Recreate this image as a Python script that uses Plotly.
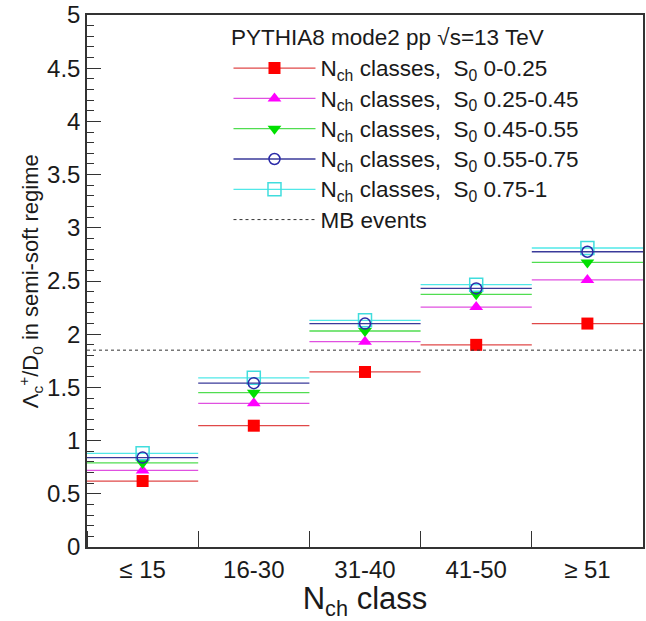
import plotly.graph_objects as go

# ---- data ----
categories = ["≤ 15", "16-30", "31-40", "41-50", "≥ 51"]
s0_000_025 = [0.62, 1.14, 1.645, 1.90, 2.10]
s0_025_045 = [0.72, 1.35, 1.93, 2.255, 2.51]
s0_045_055 = [0.79, 1.45, 2.03, 2.375, 2.675]
s0_055_075 = [0.84, 1.54, 2.10, 2.43, 2.775]
s0_075_100 = [0.88, 1.59, 2.13, 2.465, 2.81]
mb_value = 1.85
series_labels = ["0-0.25", "0.25-0.45", "0.45-0.55", "0.55-0.75", "0.75-1"]
header_text = "PYTHIA8 mode2 pp √s=13 TeV"
y_title = "Λ<sub>c</sub><sup>+</sup>/D<sub>0</sub> in semi-soft regime"
x_title = "N<sub>ch</sub> class"

FONT = "Liberation Sans, Arial, sans-serif"
TXT = "#1a1a1a"

series = [
    (s0_000_025, series_labels[0], "#e04848", "#ff0000", "square", 12, 0),
    (s0_025_045, series_labels[1], "#e050e0", "#ff00ff", "triangle-up", 12, 0),
    (s0_045_055, series_labels[2], "#50dd50", "#00e000", "triangle-down", 12, 0),
    (s0_075_100, series_labels[4], "#50e8e8", "#40dddd", "square-open", 13, 1.5),
    (s0_055_075, series_labels[3], "#3a3a9a", "#2a2aa8", "circle-open", 11, 1.5),
]

n = len(categories)
xc = [i + 0.5 for i in range(n)]

# plot-area geometry (pixels) used for paper placement of text
L, R, T, B = 87, 1, 14, 74
W, H = 646, 621
PW, PH = W - L - R, H - T - B


def px(xp):
    return (xp - L) / PW


def py(yp):
    return (H - B - yp) / PH


def big(s):
    return '<span style="font-size:22.5px">' + s + "</span>"


fig = go.Figure()

# data traces (horizontal bin-width bars + marker at bin centre)
for vals, lab, lcol, mcol, sym, size, mlw in series:
    fig.add_trace(go.Scatter(
        x=xc, y=vals, mode="markers", showlegend=False,
        marker=dict(symbol=sym, size=size, color=mcol,
                    line=dict(color=mcol, width=mlw)),
        error_x=dict(type="constant", value=0.5, width=0,
                     color=lcol, thickness=1.3),
    ))

# MB reference line
fig.add_hline(y=mb_value, line=dict(color="#333333", width=1, dash="dot"))

# legend entries (in reference order)
legend_order = [series[0], series[1], series[2], series[4], series[3]]
for vals, lab, lcol, mcol, sym, size, mlw in legend_order:
    fig.add_trace(go.Scatter(
        x=[None], y=[None], mode="lines+markers",
        name=big("N<sub>ch</sub> classes,  S<sub>0</sub> " + lab),
        line=dict(color=lcol, width=1.3),
        marker=dict(symbol=sym, size=size, color=mcol,
                    line=dict(color=mcol, width=mlw)),
    ))
fig.add_trace(go.Scatter(
    x=[None], y=[None], mode="lines", name=big("MB events"),
    line=dict(color="#333333", width=1, dash="dot"),
))

fig.add_annotation(
    text=header_text, xref="paper", yref="paper",
    x=px(230), y=py(37), xanchor="left", yanchor="middle",
    showarrow=False, font=dict(family=FONT, size=22.5, color=TXT),
)
fig.add_annotation(
    text=y_title, xref="paper", yref="paper", textangle=-90,
    x=px(30), y=0.5, xanchor="center", yanchor="middle",
    showarrow=False, font=dict(family=FONT, size=22, color=TXT),
)

fig.update_layout(
    width=W, height=H,
    margin=dict(l=L, r=R, t=T, b=B),
    paper_bgcolor="white", plot_bgcolor="white",
    font=dict(family=FONT, size=20, color=TXT),
    legend=dict(
        x=px(229), y=py(47), xanchor="left", yanchor="top",
        bgcolor="rgba(0,0,0,0)", borderwidth=0,
        font=dict(family=FONT, size=21, color=TXT),
        itemwidth=82,
    ),
    xaxis=dict(
        range=[0, n], showgrid=False, zeroline=False,
        showline=True, linecolor="#333333", linewidth=1.5, mirror=True,
        tickmode="array", tickvals=xc, ticktext=categories, ticks="",
        tickfont=dict(family=FONT, size=24, color=TXT),
        minor=dict(ticks="inside", ticklen=16, tickwidth=1.2,
                   tickcolor="#333333", tick0=0, dtick=1, showgrid=False),
        title=dict(text=x_title, standoff=8,
                   font=dict(family=FONT, size=31, color=TXT)),
    ),
    yaxis=dict(
        range=[0, 5], showgrid=False, zeroline=False,
        showline=True, linecolor="#333333", linewidth=1.5, mirror=True,
        tick0=0, dtick=0.5, ticks="inside", ticklen=14, tickwidth=1.2,
        tickcolor="#333333",
        tickfont=dict(family=FONT, size=24, color=TXT),
        minor=dict(ticks="inside", ticklen=7, tickwidth=1,
                   tickcolor="#333333", dtick=0.1, showgrid=False),
    ),
)

fig.write_html("out.html")
